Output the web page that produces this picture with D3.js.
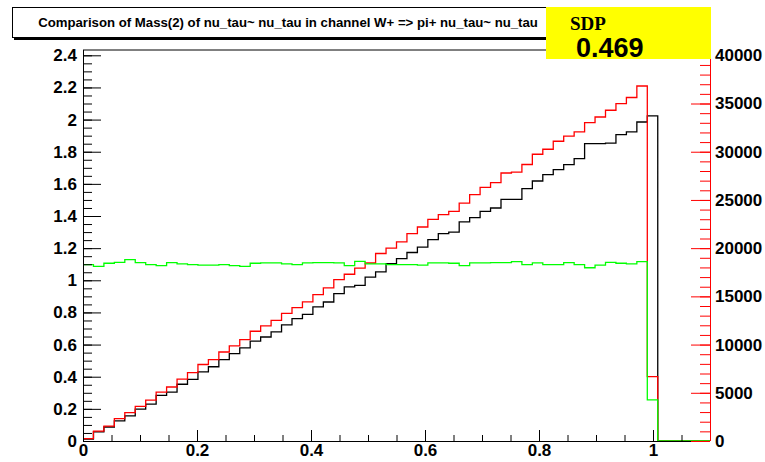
<!DOCTYPE html>
<html><head><meta charset="utf-8">
<script src="https://cdn.jsdelivr.net/npm/d3@7/dist/d3.min.js"></script>
<style>body{margin:0;background:#fff}svg{display:block}</style></head>
<body><svg id="c" width="765" height="462"></svg>
<script>
// ---- data ----
const titleText = "Comparison of Mass(2) of nu_tau~ nu_tau in channel W+ => pi+ nu_tau~ nu_tau";
const sdpLabel = "SDP";
const sdpValue = "0.469";
const xMin = 0, xMax = 1.1, nBins = 60;
const blackValues = [0.012,0.057,0.087,0.125,0.156,0.198,0.229,0.284,0.304,0.353,
  0.384,0.430,0.462,0.506,0.544,0.579,0.621,0.647,0.679,0.723,
  0.762,0.788,0.834,0.865,0.917,0.959,0.969,1.020,1.052,1.104,
  1.135,1.173,1.207,1.253,1.290,1.300,1.363,1.390,1.429,1.450,
  1.504,1.504,1.570,1.618,1.657,1.689,1.720,1.757,1.850,1.850,
  1.854,1.907,1.923,1.985,2.023,0,0,0,0,0];
const redValues = [254,1014,1552,2313,2941,3601,4230,5072,5599,6410,
  7100,7932,8439,9230,9859,10518,11380,11938,12506,13237,
  13825,14423,15184,15874,16736,17294,17933,18460,19444,20012,
  20641,21503,22193,22994,23481,23816,24678,25560,26301,26798,
  27792,27893,28674,29739,30257,31088,31626,32052,33015,33604,
  34304,34993,35622,36819,6674,0,0,0,0,0];
const greenValues = [1.097,1.087,1.106,1.112,1.129,1.110,1.097,1.091,1.110,1.102,
  1.097,1.095,1.095,1.097,1.091,1.087,1.106,1.108,1.108,1.102,
  1.097,1.108,1.110,1.110,1.108,1.091,1.118,1.102,1.102,1.097,
  1.097,1.097,1.095,1.108,1.108,1.106,1.091,1.108,1.108,1.110,
  1.110,1.116,1.097,1.108,1.097,1.097,1.110,1.097,1.078,1.095,
  1.112,1.106,1.102,1.116,0.256,0,0,0,0,0];
const xTicks = [0,0.2,0.4,0.6,0.8,1];
const xMinorTicks = [0.05,0.1,0.15,0.25,0.3,0.35,0.45,0.5,0.55,0.65,0.7,0.75,0.85,0.9,0.95,1.05];
const leftTicks = [0,0.2,0.4,0.6,0.8,1,1.2,1.4,1.6,1.8,2,2.2,2.4];
const leftMax = 2.433;
const rightTicks = [0,5000,10000,15000,20000,25000,30000,35000,40000];
const rightMax = 40550;

// ---- layout ----
const L = 83, R = 710, T = 50, B = 441;
const svg = d3.select("#c");
const font = "'Liberation Sans', Arial, Helvetica, sans-serif";

const x = d3.scaleLinear().domain([xMin, xMax]).range([L, R]);
const yL = d3.scaleLinear().domain([0, leftMax]).range([B, T]);
const yR = d3.scaleLinear().domain([0, rightMax]).range([B, T]);

const binW = (xMax - xMin) / nBins;
function pts(vals){
  const p = vals.map((v,i)=>[xMin + i*binW, v]);
  p.push([xMax, vals[vals.length-1]]);
  return p;
}

// frame top
svg.append("line").attr("x1",L).attr("x2",R).attr("y1",T).attr("y2",T)
  .attr("stroke","#000").attr("stroke-width",1);

// histograms
const lineL = d3.line().curve(d3.curveStepAfter).x(d=>x(d[0])).y(d=>yL(d[1]));
const lineR = d3.line().curve(d3.curveStepAfter).x(d=>x(d[0])).y(d=>yR(d[1]));
svg.append("path").attr("d", lineL(pts(blackValues))).attr("fill","none").attr("stroke","#000").attr("stroke-width",1.3);
svg.append("path").attr("d", lineR(pts(redValues))).attr("fill","none").attr("stroke","#ff0000").attr("stroke-width",1.3);
svg.append("path").attr("d", lineL(pts(greenValues))).attr("fill","none").attr("stroke","#00ff00").attr("stroke-width",1.3);

// axes
function styleText(g){
  g.selectAll("text").attr("font-family",font).attr("font-weight","bold").attr("font-size",17).attr("fill","#000");
}
const gl = svg.append("g").attr("transform",`translate(${L},0)`)
  .call(d3.axisLeft(yL).tickValues(leftTicks).tickSize(-18).tickPadding(6).tickFormat(d3.format("~g")));
gl.select(".domain").attr("stroke","#000").attr("d",`M0.5,${B}V${T}`);
gl.selectAll(".tick line").attr("stroke","#000");
styleText(gl);
const leftMinor = d3.range(0, 2.4+1e-9, 0.05).map(v=>+v.toFixed(2));
svg.append("g").attr("transform",`translate(${L},0)`)
  .call(d3.axisLeft(yL).tickValues(leftMinor).tickSize(-9).tickFormat(""))
  .call(g=>{g.select(".domain").remove(); g.selectAll("line").attr("stroke","#000");});

const gb = svg.append("g").attr("transform",`translate(0,${B})`)
  .call(d3.axisBottom(x).tickValues(xTicks).tickSize(-11).tickPadding(3).tickFormat(d3.format("~g")));
gb.select(".domain").attr("stroke","#000").attr("d",`M${L},0.5H${R}`);
gb.selectAll(".tick line").attr("stroke","#000");
styleText(gb);
svg.append("g").attr("transform",`translate(0,${B})`)
  .call(d3.axisBottom(x).tickValues(xMinorTicks).tickSize(-6).tickFormat(""))
  .call(g=>{g.select(".domain").remove(); g.selectAll("line").attr("stroke","#000");});

const gr = svg.append("g").attr("transform",`translate(${R},0)`)
  .call(d3.axisRight(yR).tickValues(rightTicks).tickSize(-19).tickPadding(5).tickFormat(d3.format("d")));
gr.select(".domain").attr("stroke","#ff0000").attr("d",`M0.5,${B}V${T}`);
gr.selectAll(".tick line").attr("stroke","#ff0000");
styleText(gr);
const rightMinor = d3.range(0, 40000+1, 1000);
svg.append("g").attr("transform",`translate(${R},0)`)
  .call(d3.axisRight(yR).tickValues(rightMinor).tickSize(-10).tickFormat(""))
  .call(g=>{g.select(".domain").remove(); g.selectAll("line").attr("stroke","#ff0000");});

// title box
svg.append("rect").attr("x",14).attr("y",10).attr("width",551).attr("height",30).attr("fill","#000");
svg.append("rect").attr("x",12.5).attr("y",7.5).attr("width",551).attr("height",30)
  .attr("fill","#fff").attr("stroke","#000").attr("stroke-width",1);
const tt = svg.append("text").attr("x",288).attr("y",27).attr("text-anchor","middle")
  .attr("font-family",font).attr("font-weight","bold").attr("font-size",12.5).text(titleText);
const tl = tt.node().getComputedTextLength();
tt.attr("font-size", 12.5*500/tl);

// SDP box
svg.append("rect").attr("x",546).attr("y",7).attr("width",165).attr("height",52).attr("fill","#ffff00");
svg.append("text").attr("x",570).attr("y",30).attr("font-family","'Liberation Serif','Times New Roman',serif")
  .attr("font-weight","bold").attr("font-size",19).text(sdpLabel);
svg.append("text").attr("x",576).attr("y",57).attr("font-family",font)
  .attr("font-weight","bold").attr("font-size",27).text(sdpValue);
</script></body></html>
